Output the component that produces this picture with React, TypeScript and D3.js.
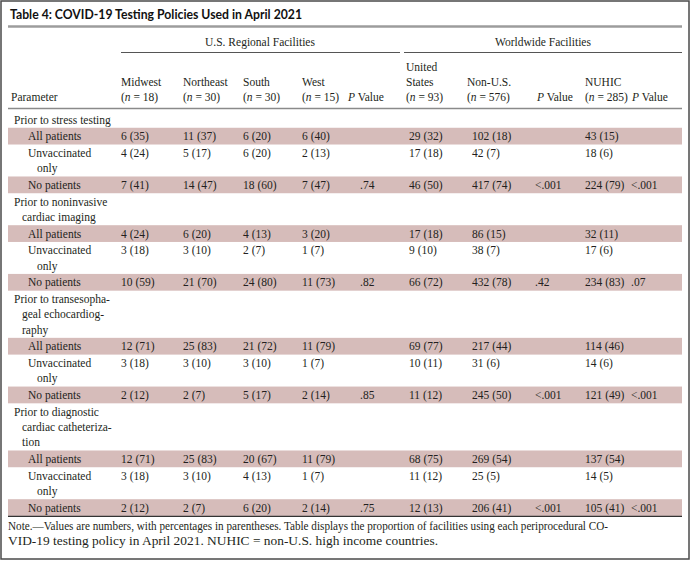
import React from "react";
import * as d3 from "d3";

const W = 691;
const H = 561;

const titleText = "Table 4: COVID-19 Testing Policies Used in April 2021";
const groupLabels = ["U.S. Regional Facilities", "Worldwide Facilities"];

const sectionLabels = [
  ["Prior to stress testing"],
  ["Prior to noninvasive", "cardiac imaging"],
  ["Prior to transesopha-", "geal echocardiog-", "raphy"],
  ["Prior to diagnostic", "cardiac catheteriza-", "tion"],
];
const policyLabels = [["All patients"], ["Unvaccinated", "only"], ["No patients"]];

const regionNames = [["Midwest"], ["Northeast"], ["South"], ["West"]];
const regionN = [18, 30, 30, 15];
const worldNames = [["United", "States"], ["Non-U.S."], ["NUHIC"]];
const worldN = [93, 576, 285];

// values in order: section x policy (All, Unvaccinated only, No patients)
const midwestCounts = [6, 4, 7, 4, 3, 10, 12, 3, 2, 12, 3, 2];
const midwestPct = [35, 24, 41, 24, 18, 59, 71, 18, 12, 71, 18, 12];
const northeastCounts = [11, 5, 14, 6, 3, 21, 25, 3, 2, 25, 3, 2];
const northeastPct = [37, 17, 47, 20, 10, 70, 83, 10, 7, 83, 10, 7];
const southCounts = [6, 6, 18, 4, 2, 24, 21, 3, 5, 20, 4, 6];
const southPct = [20, 20, 60, 13, 7, 80, 72, 10, 17, 67, 13, 20];
const westCounts = [6, 2, 7, 3, 1, 11, 11, 1, 2, 11, 1, 2];
const westPct = [40, 13, 47, 20, 7, 73, 79, 7, 14, 79, 7, 14];
const usCounts = [29, 17, 46, 17, 9, 66, 69, 10, 11, 68, 11, 12];
const usPct = [32, 18, 50, 18, 10, 72, 77, 11, 12, 75, 12, 13];
const nonUsCounts = [102, 42, 417, 86, 38, 432, 217, 31, 245, 269, 25, 206];
const nonUsPct = [18, 7, 74, 15, 7, 78, 44, 6, 50, 54, 5, 41];
const nuhicCounts = [43, 18, 224, 32, 17, 234, 114, 14, 121, 137, 14, 105];
const nuhicPct = [15, 6, 79, 11, 6, 83, 46, 6, 49, 54, 5, 41];
const pRegional = [".74", ".82", ".85", ".75"];
const pUsVsNonUs = ["<.001", ".42", "<.001", "<.001"];
const pUsVsNuhic = ["<.001", ".07", "<.001", "<.001"];

const noteLines = [
  "Note.\u2014Values are numbers, with percentages in parentheses. Table displays the proportion of facilities using each periprocedural CO-",
  "VID-19 testing policy in April 2021. NUHIC = non-U.S. high income countries.",
];

const colKeys = ["mw", "ne", "so", "we", "p1", "us", "nu", "p2", "nh", "p3"];
const headX = d3.scaleOrdinal<string, number>().domain(colKeys).range([121, 183, 243, 302, 348, 406, 467, 537, 585, 632]);
const valX = d3.scaleOrdinal<string, number>().domain(colKeys).range([121, 183, 243, 302, 360, 409, 472, 535, 585, 631]);

const SERIF = "'Liberation Serif', 'Times New Roman', serif";
const SANS = "Lato, 'DejaVu Sans', sans-serif";
const TXT = "#231f20";
const SHADE = "#d6bcba";
const FS = 11.5;
const LINE = 15.2;
const PAD = 1.56;
const LEFT = 8;
const RIGHT = 682;

type Row = {
  kind: "head" | "policy";
  lines: string[];
  shaded: boolean;
  idx: number;
  section: number;
  policy: number;
};

export default function App() {
  const rows: Row[] = [];
  sectionLabels.forEach((lab, s) => {
    rows.push({ kind: "head", lines: lab, shaded: false, idx: -1, section: s, policy: -1 });
    policyLabels.forEach((pl, p) => {
      rows.push({ kind: "policy", lines: pl, shaded: p !== 1, idx: s * 3 + p, section: s, policy: p });
    });
  });
  const heights = rows.map((r) => PAD + LINE * r.lines.length);
  const tops = [0, ...Array.from(d3.cumsum(heights))].map((v) => 111 + v);

  const countCols: [string, number[], number[]][] = [
    ["mw", midwestCounts, midwestPct],
    ["ne", northeastCounts, northeastPct],
    ["so", southCounts, southPct],
    ["we", westCounts, westPct],
    ["us", usCounts, usPct],
    ["nu", nonUsCounts, nonUsPct],
    ["nh", nuhicCounts, nuhicPct],
  ];
  const pCols: [string, string[]][] = [
    ["p1", pRegional],
    ["p2", pUsVsNonUs],
    ["p3", pUsVsNuhic],
  ];

  const headerCols: { key: string; lines: string[]; n: number }[] = [
    ...regionNames.map((nm, i) => ({ key: colKeys[i], lines: nm, n: regionN[i] })),
    { key: "us", lines: worldNames[0], n: worldN[0] },
    { key: "nu", lines: worldNames[1], n: worldN[1] },
    { key: "nh", lines: worldNames[2], n: worldN[2] },
  ];
  const hdrBase = 101;

  return (
    <svg width={W} height={H} style={{ position: "absolute", left: 0, top: 0, background: "#fff" }}>
      <rect x={0} y={0} width={W} height={H} fill="#fff" />
      <rect x={1} y={1} width={W - 3} height={H - 3} fill="none" stroke="#4a4a4a" strokeWidth={1.5} />
      <text x={10} y={19} fontFamily={SANS} fontWeight={700} fontSize={12.5} fill="#111" textLength={292} lengthAdjust="spacingAndGlyphs">
        {titleText}
      </text>
      <line x1={LEFT} x2={RIGHT} y1={26.5} y2={26.5} stroke="#9c9c9c" strokeWidth={2.5} />

      {/* group headers */}
      <text x={260} y={45.5} textAnchor="middle" fontFamily={SERIF} fontSize={FS} fill={TXT}>{groupLabels[0]}</text>
      <text x={543} y={45.5} textAnchor="middle" fontFamily={SERIF} fontSize={FS} fill={TXT}>{groupLabels[1]}</text>
      <line x1={121} x2={400} y1={52.5} y2={52.5} stroke="#555" strokeWidth={1} />
      <line x1={404} x2={RIGHT} y1={52.5} y2={52.5} stroke="#555" strokeWidth={1} />

      {/* column headers */}
      <text x={11} y={hdrBase} fontFamily={SERIF} fontSize={FS} fill={TXT}>Parameter</text>
      {headerCols.map((c) => (
        <g key={c.key}>
          {c.lines.map((ln, i) => (
            <text key={i} x={headX(c.key)} y={hdrBase - LINE * (c.lines.length - i)} fontFamily={SERIF} fontSize={FS} fill={TXT}>
              {ln}
            </text>
          ))}
          <text x={headX(c.key)} y={hdrBase} fontFamily={SERIF} fontSize={FS} fill={TXT}>
            (<tspan fontStyle="italic">n</tspan> = {c.n})
          </text>
        </g>
      ))}
      {["p1", "p2", "p3"].map((k) => (
        <text key={k} x={headX(k)} y={hdrBase} fontFamily={SERIF} fontSize={FS} fill={TXT}>
          <tspan fontStyle="italic">P</tspan> Value
        </text>
      ))}
      <line x1={LEFT} x2={RIGHT} y1={108.5} y2={108.5} stroke="#8a8a8a" strokeWidth={1.5} />

      {/* body */}
      {rows.map((r, ri) => {
        const top = tops[ri];
        const h = heights[ri];
        const base = top + 12.5;
        return (
          <g key={ri}>
            {r.shaded && <rect x={LEFT} y={top} width={RIGHT - LEFT} height={h} fill={SHADE} />}
            {r.lines.map((ln, li) => {
              const x = r.kind === "head" ? (li === 0 ? 14 : 22) : li === 0 ? 28 : 37;
              return (
                <text key={li} x={x} y={base + li * LINE} fontFamily={SERIF} fontSize={FS} fill={TXT}>
                  {ln}
                </text>
              );
            })}
            {r.kind === "policy" &&
              countCols.map(([k, cs, ps]) => (
                <text key={k} x={valX(k)} y={base} fontFamily={SERIF} fontSize={FS} fill={TXT}>
                  {`${cs[r.idx]} (${ps[r.idx]})`}
                </text>
              ))}
            {r.kind === "policy" &&
              r.policy === 2 &&
              pCols.map(([k, vals]) => (
                <text key={k} x={valX(k)} y={base} fontFamily={SERIF} fontSize={FS} fill={TXT}>
                  {vals[r.section]}
                </text>
              ))}
          </g>
        );
      })}
      <line x1={LEFT} x2={RIGHT} y1={tops[rows.length] + 0.5} y2={tops[rows.length] + 0.5} stroke="#333" strokeWidth={1.2} />

      {/* note */}
      <text x={8} y={530} fontFamily={SERIF} fontSize={FS} fill={TXT} textLength={600} lengthAdjust="spacingAndGlyphs">
        {noteLines[0]}
      </text>
      <text x={8} y={545} fontFamily={SERIF} fontSize={FS} fill={TXT} textLength={430} lengthAdjust="spacingAndGlyphs">
        {noteLines[1]}
      </text>
    </svg>
  );
}
